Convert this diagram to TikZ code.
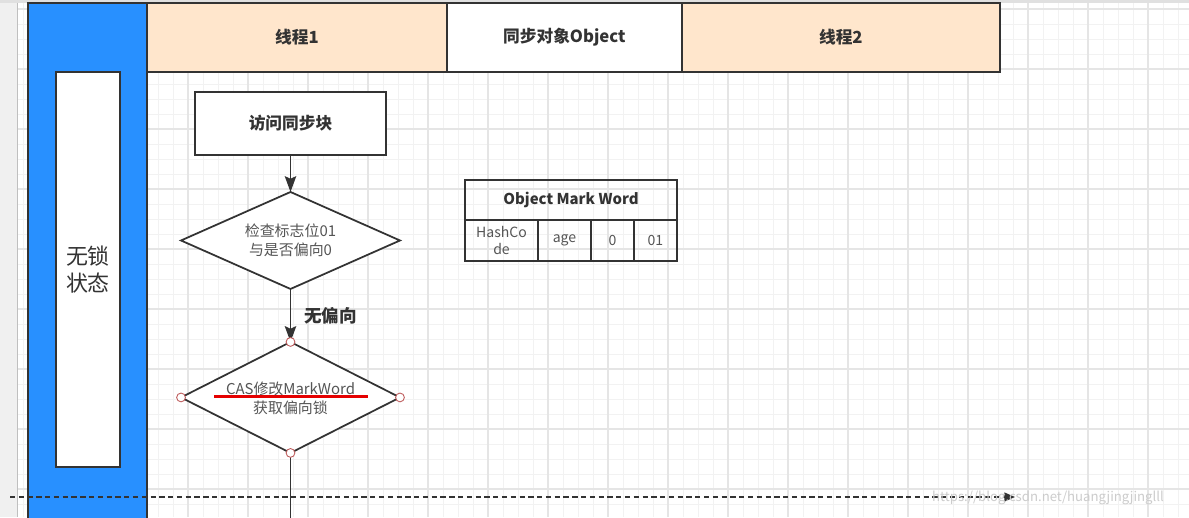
\documentclass[tikz,border=0pt]{standalone}
\usepackage{fontspec}
\setmainfont{Noto Sans CJK SC}
\usetikzlibrary{positioning,shapes.geometric,arrows.meta}
\definecolor{lockblue}{RGB}{40,144,255}
\definecolor{peach}{RGB}{255,230,204}
\definecolor{edge}{RGB}{51,51,51}
\definecolor{textgray}{RGB}{85,85,85}
\definecolor{portred}{RGB}{190,90,90}
\tikzset{box/.style={draw=edge,line width=1pt,inner sep=0pt,outer sep=0pt,text=edge,font=\bfseries\fontsize{9.5}{11}\selectfont},
  lane/.style={box,fill=peach},
  cell/.style={draw=edge,line width=0.9pt,inner sep=0pt,outer sep=0pt,align=center,text=textgray,font=\fontsize{8}{9.5}\selectfont},
  decision/.style={diamond,draw=edge,line width=1pt,fill=white,inner sep=0pt,outer sep=0pt,minimum width=4.38cm},
  dtext/.style={align=center,text=textgray,font=\fontsize{8.5}{10.5}\selectfont},
  flow/.style={draw=edge,line width=1pt,-{Stealth[length=9pt,width=6.5pt,inset=1.5pt]}},
  minorgrid/.style={draw=black!5,line width=0.4pt},
  majorgrid/.style={draw=black!10,line width=0.6pt},
  port/.style={circle,draw=portred,fill=white,inner sep=0pt,minimum size=5pt,line width=0.5pt}}

\begin{document}
\begin{tikzpicture}[x=0.02cm,y=-0.02cm]
  \clip (0,0) rectangle (1189,517);
  \fill[white] (0,0) rectangle (1189,517);
  % grid
  \foreach \gx in {8,23,...,1188}{\draw[minorgrid] (\gx,3) -- (\gx,517);}
  \foreach \gy in {9,24,...,516}{\draw[minorgrid] (17,\gy) -- (1189,\gy);}
  \foreach \gx in {8,68,...,1188}{\draw[majorgrid] (\gx,3) -- (\gx,517);}
  \foreach \gy in {9,69,...,516}{\draw[majorgrid] (17,\gy) -- (1189,\gy);}
  \fill[black!6] (0,0) rectangle (17,517);
  \fill[black!12] (0,0) rectangle (1189,3);
  \draw[black!25] (17,3) -- (17,517);

  % swimlanes
  \node[box,fill=lockblue,minimum width=2.38cm,minimum height=10.5cm,anchor=north west] (bar) at (28,3) {};
  \node[box,fill=white,minimum width=1.28cm,minimum height=7.9cm,anchor=north west] (state) at (56,72)
       {};
  \node[align=center,text=edge,font=\fontsize{12.5}{15}\selectfont] (statetext) at (state.center) {无锁\\状态};
  \node[lane,minimum width=6cm,minimum height=1.38cm,anchor=north west] (t1) at (147,3) {线程1};
  \node[box,fill=white,minimum width=4.7cm,minimum height=1.38cm,anchor=west] (obj) at (t1.east) {同步对象Object};
  \node[lane,minimum width=6.36cm,minimum height=1.38cm,anchor=west] (t2) at (obj.east) {线程2};

  % flow
  \node[box,fill=white,minimum width=3.82cm,minimum height=1.26cm] (enter) at (290.5,123.5) {访问同步块};
  \node[decision,minimum height=1.94cm,below=0.74cm of enter] (check) {};
  \node[dtext] (checktext) at (check.center) {检查标志位01\\与是否偏向0};
  \node[decision,minimum height=2.22cm,below=1.06cm of check] (cas) {};
  \node[dtext] (castext) at ([yshift=-0.02cm]cas.center) {CAS修改MarkWord\\获取偏向锁};
  \draw[red!90!black,line width=1.3pt] ([xshift=-1.53cm,yshift=0.02cm]cas.center) -- ([xshift=1.55cm,yshift=0.02cm]cas.center);
  \coordinate (down) at (cas.south |- 0,520);
  \draw[flow] (enter) -- (check);
  \draw[flow] (check) -- node[right=4pt,text=edge,font=\bfseries\fontsize{10}{12}\selectfont] (nobias) {无偏向} (cas);
  \draw[draw=edge,line width=1pt] (cas) -- (down);
  \foreach \side in {north,south,east,west}{\node[port] (port-\side) at (cas.\side) {};}

  % mark word table
  \node[cell,minimum width=4.24cm,minimum height=0.8cm,font=\bfseries\fontsize{8.5}{10}\selectfont,text=edge] (mw) at (571,200) {Object Mark Word};
  \node[cell,minimum width=1.46cm,minimum height=0.82cm,anchor=north west] (hash) at (mw.south west) {HashCo\\de};
  \node[cell,minimum width=1.06cm,minimum height=0.82cm,anchor=west] (age) at (hash.east) {age};
  \node[cell,minimum width=0.86cm,minimum height=0.82cm,anchor=west] (bias) at (age.east) {0};
  \node[cell,minimum width=0.86cm,minimum height=0.82cm,anchor=west] (flag) at (bias.east) {01};

  % time line
  \coordinate (tl0) at (10,497);
  \coordinate (tl1) at (1015,497);
  \draw[edge,line width=0.8pt,dash pattern=on 3pt off 2pt,-{Triangle[length=6pt,width=5pt]}] (tl0) -- (tl1);
  \node[text=black!20,font=\fontsize{7.5}{9}\selectfont,anchor=west] (mark) at (926,498) {https://blog.csdn.net/huangjingjinglll};
\end{tikzpicture}
\end{document}
